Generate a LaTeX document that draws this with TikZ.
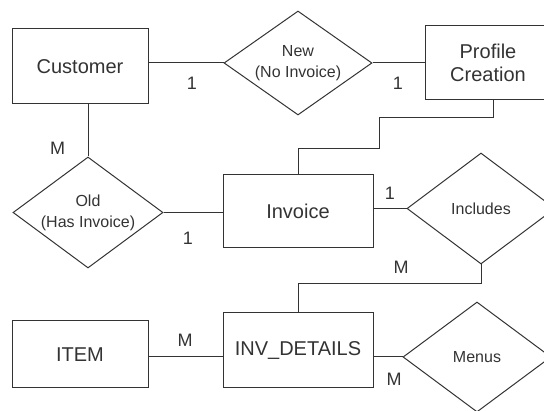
\documentclass[tikz,border=0pt]{standalone}
\usepackage{fontspec}
\setmainfont{Liberation Sans}
\usepackage{tikz}
\usetikzlibrary{shapes.geometric,positioning}

\tikzset{
  entity/.style={draw, rectangle, minimum width=136pt, minimum height=75pt,
    inner sep=0pt, align=center, font=\fontsize{20}{23}\selectfont},
  relation/.style={draw, diamond, minimum width=148pt, minimum height=110pt,
    aspect=1.35, inner sep=0pt, align=center, font=\fontsize{16}{21}\selectfont},
  card/.style={font=\fontsize{18}{20}\selectfont},
}

\begin{document}
\begin{tikzpicture}[x=1pt, y=-1pt, line width=1pt, color=black!80]
    \useasboundingbox (0,0) rectangle (544,411);
    % entities
    \node[entity] (cust) at (80,66.5) {Customer};
    \node[entity, minimum width=126pt, minimum height=74pt] (prof) at (488,63) {Profile\\Creation};
    \node[entity, minimum width=150pt, minimum height=73pt] (inv) at (298,211.5) {Invoice};
    \node[entity, minimum width=150pt] (det) at (298,350.5) {INV\_DETAILS};
    \node[entity, minimum height=67pt] (item) at (80,354.5) {ITEM};
    % relationships
    \node[relation, minimum height=104pt, aspect=1.42] (new) at (298,63) {New\\(No Invoice)};
    \node[relation, minimum width=150pt, minimum height=111pt] (old) at (88,212.5) {Old\\(Has Invoice)};
    \node[relation, minimum height=111pt, aspect=1.33] (incl) at (481,208.5) {Includes};
    \node[relation] (menu) at (477,357) {Menus};
    % links
    \draw (new.west) -- (new.west -| cust.east);
    \draw (new.east) -- (new.east -| prof.west);
    \draw (old.north) -- (old.north |- cust.south);
    \draw (old.east) -- (old.east -| inv.west);
    \draw ([xshift=5pt]prof.south) -- ++(0,17) -| (379,149) -| (inv.north);
    \draw (incl.west) -- (incl.west -| inv.east);
    \draw (incl.south) -- ++(0,19) -| (det.north);
    \draw (item.east |- menu.west) -- (det.west |- menu.west);
    \draw (det.east |- menu.west) -- (menu.west);
    % cardinalities
    \node[card] (c1) at (192,83) {1};
    \node[card] (c2) at (398,83) {1};
    \node[card] (c3) at (57.5,148) {M};
    \node[card] (c4) at (188,238) {1};
    \node[card] (c5) at (390,193) {1};
    \node[card] (c6) at (401,267.5) {M};
    \node[card] (c7) at (185,340.5) {M};
    \node[card] (c8) at (394,379) {M};
\end{tikzpicture}
\end{document}
